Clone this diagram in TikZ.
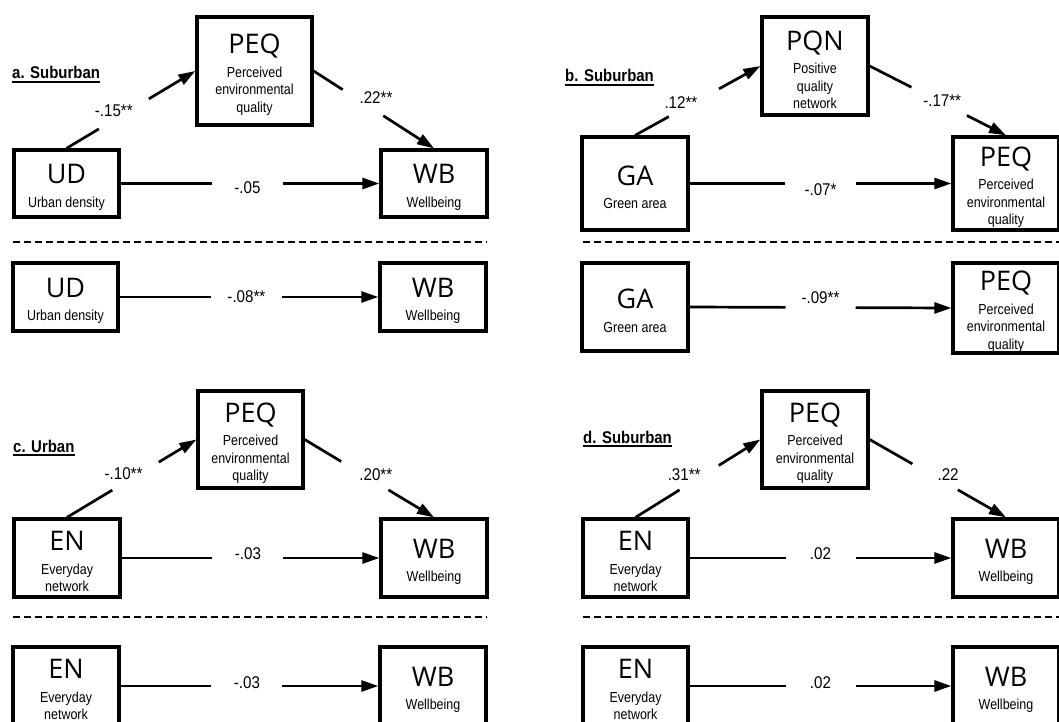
\documentclass[tikz,border=0pt]{standalone}
\usepackage{fontspec}
\usetikzlibrary{arrows.meta}
\newfontfamily\bigfam{Open Sans}
\newfontfamily\narrowfam[FakeStretch=0.86]{Liberation Sans}
\newfontfamily\lblfam[FakeStretch=0.89]{Liberation Sans}
\newfontfamily\ttlfam[FakeStretch=0.88]{Liberation Sans}
\newcommand\fBig{\bigfam\fontsize{27}{30}\selectfont}
\newcommand\fSmall{\narrowfam\fontsize{14.5}{17.5}\selectfont}
\newcommand\fLbl{\lblfam\fontsize{17}{20}\selectfont}
\newcommand\fTtl{\ttlfam\bfseries\fontsize{17}{20}\selectfont}
\newcommand\bx[2]{{\fBig\rule{0pt}{27pt}#1}\\[6pt]#2}
\begin{document}
\begin{tikzpicture}[x=1pt,y=-1pt,
  box/.style={draw, line width=3.3pt, inner sep=0pt, align=center, font=\fSmall},
  arr/.style={line width=2.7pt, -{Triangle[length=17pt,width=11pt]}},
  gapm/.style={fill=white, sloped, inner sep=0pt, minimum height=12pt},
  lbl/.style={font=\fLbl, inner sep=0pt},
  ttl/.style={font=\fTtl, anchor=base west, inner sep=0pt},
  uline/.style={line width=1.4pt},
  sep/.style={line width=2.2pt, dash pattern=on 7pt off 4pt}]
\useasboundingbox (0,0) rectangle (1059,722);
\clip (0,0) rectangle (1059,722);

% ---------- panel a ----------
\node[ttl] (tA) at (12,79) {a. Suburban};
\draw[uline] ([yshift=-3pt]tA.base west) -- ([yshift=-3pt]tA.base east);
\node[box, minimum width=115pt, minimum height=108pt] (peqA) at (254.5,71) {\bx{PEQ}{Perceived\\environmental\\quality}};
\node[box, minimum width=105pt, minimum height=67pt] (udA) at (66.5,183.5) {\bx{UD}{Urban density}};
\node[box, minimum width=106pt, minimum height=67pt] (wbA) at (434,183.5) {\bx{WB}{Wellbeing}};
\node[box, minimum width=105pt, minimum height=68pt] (udA2) at (65.5,297) {\bx{UD}{Urban density}};
\node[box, minimum width=106pt, minimum height=68pt] (wbA2) at (433,297) {\bx{WB}{Wellbeing}};
\draw[arr] (udA.north) -- (peqA.west)
  node[gapm, pos=0.445, minimum width=58pt] {}
  node[lbl, pos=0.445, xshift=-10pt, yshift=3pt] {-.15**};
\draw[arr] (peqA.east) -- (wbA.north)
  node[gapm, pos=0.41, minimum width=48pt] {}
  node[lbl, pos=0.41, xshift=13pt, yshift=5pt] {.22**};
\draw[arr] (udA.east) -- (wbA.west)
  node[gapm, pos=0.49, minimum width=71pt] {}
  node[lbl, pos=0.49, yshift=-4pt] {-.05};
\coordinate (dA1) at (13,242); \coordinate (dA2) at (487,242);
\draw[sep] (dA1) -- (dA2);
\draw[arr] (udA2.east) -- (wbA2.west)
  node[gapm, pos=0.49, minimum width=71pt] {}
  node[lbl, pos=0.49] {-.08**};

% ---------- panel b ----------
\node[ttl] (tB) at (565,82) {b. Suburban};
\draw[uline] ([yshift=-3pt]tB.base west) -- ([yshift=-3pt]tB.base east);
\node[box, minimum width=106pt, minimum height=98pt] (pqnB) at (815,66) {\bx{PQN}{Positive\\quality\\network}};
\node[box, minimum width=106pt, minimum height=93pt] (gaB) at (635,183.5) {\bx{GA}{Green area}};
\node[box, minimum width=106pt, minimum height=93pt] (peqB) at (1006,183.5) {\bx{PEQ}{Perceived\\environmental\\quality}};
\node[box, minimum width=106pt, minimum height=88pt] (gaB2) at (635,307) {\bx{GA}{Green area}};
\node[box, minimum width=106pt, minimum height=90pt] (peqB2) at (1006,308) {\bx{PEQ}{Perceived\\environmental\\quality}};
\draw[arr] (gaB.north) -- (pqnB.west)
  node[gapm, pos=0.47, minimum width=57pt] {}
  node[lbl, pos=0.47, xshift=-13pt] {.12**};
\draw[arr] (pqnB.east) -- (peqB.north)
  node[gapm, pos=0.51, minimum width=62pt] {}
  node[lbl, pos=0.51, xshift=3pt, yshift=1pt] {-.17**};
\draw[arr] (gaB.east) -- (peqB.west)
  node[gapm, pos=0.5, minimum width=71pt] {}
  node[lbl, pos=0.5, yshift=-6pt] {-.07*};
\coordinate (dB1) at (583,242); \coordinate (dB2) at (1059,242);
\draw[sep] (dB1) -- (dB2);
\draw[arr] (gaB2.east) -- (peqB2.west)
  node[gapm, pos=0.5, minimum width=70pt] {}
  node[lbl, pos=0.5, yshift=10pt] {-.09**};

% ---------- panel c ----------
\node[ttl] (tC) at (13,452) {c. Urban};
\draw[uline] ([yshift=-3pt]tC.base west) -- ([yshift=-3pt]tC.base east);
\node[box, minimum width=105pt, minimum height=97pt] (peqC) at (250.5,439.5) {\bx{PEQ}{Perceived\\environmental\\quality}};
\node[box, minimum width=106pt, minimum height=78pt] (enC) at (67,558) {\bx{EN}{Everyday\\network}};
\node[box, minimum width=106pt, minimum height=78pt] (wbC) at (434,558) {\bx{WB}{Wellbeing}};
\node[box, minimum width=106pt, minimum height=78pt] (enC2) at (66,686) {\bx{EN}{Everyday\\network}};
\node[box, minimum width=106pt, minimum height=78pt] (wbC2) at (433,686) {\bx{WB}{Wellbeing}};
\draw[arr] (enC.north) -- (peqC.west)
  node[gapm, pos=0.53, minimum width=54pt] {}
  node[lbl, pos=0.53, xshift=-12pt, yshift=2pt] {-.10**};
\draw[arr] (peqC.east) -- (wbC.north)
  node[gapm, pos=0.465, minimum width=55pt] {}
  node[lbl, pos=0.465, xshift=11pt, yshift=1pt] {.20**};
\draw[arr] (enC.east) -- (wbC.west)
  node[gapm, pos=0.49, minimum width=71pt] {}
  node[lbl, pos=0.49, yshift=4pt] {-.03};
\coordinate (dC1) at (13,617); \coordinate (dC2) at (487,617);
\draw[sep] (dC1) -- (dC2);
\draw[arr] (enC2.east) -- (wbC2.west)
  node[gapm, pos=0.49, minimum width=71pt] {}
  node[lbl, pos=0.49, yshift=3pt] {-.03};

% ---------- panel d ----------
\node[ttl] (tD) at (583,443) {d. Suburban};
\draw[uline] ([yshift=-3pt]tD.base west) -- ([yshift=-3pt]tD.base east);
\node[box, minimum width=106pt, minimum height=97pt] (peqD) at (815,439.5) {\bx{PEQ}{Perceived\\environmental\\quality}};
\node[box, minimum width=105pt, minimum height=78pt] (enD) at (635.5,558) {\bx{EN}{Everyday\\network}};
\node[box, minimum width=106pt, minimum height=78pt] (wbD) at (1006,558) {\bx{WB}{Wellbeing}};
\node[box, minimum width=105pt, minimum height=78pt] (enD2) at (635.5,686) {\bx{EN}{Everyday\\network}};
\node[box, minimum width=106pt, minimum height=78pt] (wbD2) at (1006,686) {\bx{WB}{Wellbeing}};
\draw[arr] (enD.north) -- (peqD.west)
  node[gapm, pos=0.51, minimum width=46pt] {}
  node[lbl, pos=0.51, xshift=-15pt, yshift=3pt] {.31**};
\draw[arr] (peqD.east) -- (wbD.north)
  node[gapm, pos=0.48, minimum width=52pt] {}
  node[lbl, pos=0.48, xshift=13pt, yshift=2pt] {.22};
\draw[arr] (enD.east) -- (wbD.west)
  node[gapm, pos=0.5, minimum width=70pt] {}
  node[lbl, pos=0.5, yshift=4pt] {.02};
\coordinate (dD1) at (583,617); \coordinate (dD2) at (1059,617);
\draw[sep] (dD1) -- (dD2);
\draw[arr] (enD2.east) -- (wbD2.west)
  node[gapm, pos=0.5, minimum width=70pt] {}
  node[lbl, pos=0.5, yshift=3pt] {.02};
\end{tikzpicture}
\end{document}
